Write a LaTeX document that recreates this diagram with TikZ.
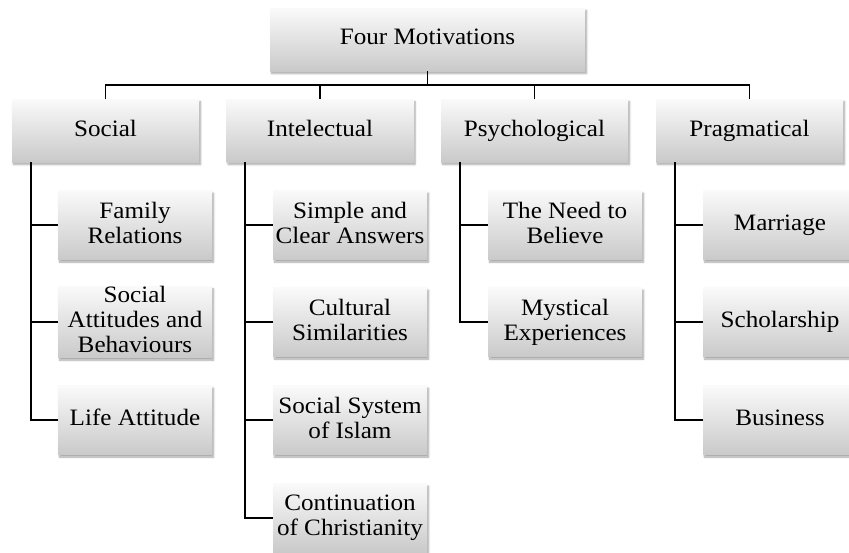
\documentclass[tikz,border=0pt]{standalone}
\usepackage{fontspec}
\setmainfont{Liberation Serif}[FakeStretch=1.07]
\usetikzlibrary{shadows.blur}

\newcommand{\boxstrut}{\rule[-5pt]{0pt}{18pt}}

\begin{document}
\begin{tikzpicture}[
  x=1pt,y=-1pt,
  every node/.style={font=\fontsize{23.5}{25}\selectfont,align=center,inner sep=0pt,
    execute at begin node=\boxstrut,execute at end node=\boxstrut},
  box node/.style={rectangle,top color=black!2,bottom color=black!21,
    blur shadow={shadow xshift=1.5pt,shadow yshift=-2.5pt,shadow blur steps=6,shadow opacity=35}},
  root node/.style={box node,minimum width=315,minimum height=63},
  group node/.style={box node,minimum width=187,minimum height=63},
  item node/.style={box node,minimum width=154,minimum height=69},
  link/.style={draw=black,line width=1.7pt},
]
\useasboundingbox (0,0) rectangle (849,552);
\coordinate (bus) at (0,85);
\node[root node] (top) at (427.5,39.5) {Four Motivations};
\node[group node] (soc) at (105.5,130.5) {Social};
\node[group node] (int) at (320,130.5) {Intelectual};
\node[group node] (psy) at (534.5,130.5) {Psychological};
\node[group node] (prg) at (749.5,130.5) {Pragmatical};
\node[item node] (soc1) at (135,225) {Family\\Relations};
\node[item node] (soc2) at (135,322) {Social\\Attitudes and\\Behaviours};
\node[item node] (soc3) at (135,420) {Life Attitude};
\node[item node] (int1) at (350,225) {Simple and\\Clear Answers};
\node[item node] (int2) at (350,322) {Cultural\\Similarities};
\node[item node] (int3) at (350,420) {Social System\\of Islam};
\node[item node] (int4) at (350,518) {Continuation\\of Christianity};
\node[item node] (psy1) at (565,225) {The Need to\\Believe};
\node[item node] (psy2) at (565,322) {Mystical\\Experiences};
\node[item node] (prg1) at (780,225) {Marriage};
\node[item node] (prg2) at (780,322) {Scholarship};
\node[item node] (prg3) at (780,420) {Business};
% top level bus
\draw[link] (top.south) -- (top.south |- bus);
\draw[link] (soc.north) |- (prg.north |- bus) -- (prg.north);
\draw[link] (int.north) -- (int.north |- bus);
\draw[link] (psy.north) -- (psy.north |- bus);
% child branches
\draw[link] ([xshift=19pt]soc.south west) |- (soc3);
\foreach \c in {soc1,soc2} \draw[link] ([xshift=19pt]soc.south west |- \c) -- (\c);
\draw[link] ([xshift=19pt]int.south west) |- (int4);
\foreach \c in {int1,int2,int3} \draw[link] ([xshift=19pt]int.south west |- \c) -- (\c);
\draw[link] ([xshift=19pt]psy.south west) |- (psy2);
\draw[link] ([xshift=19pt]psy.south west |- psy1) -- (psy1);
\draw[link] ([xshift=19pt]prg.south west) |- (prg3);
\foreach \c in {prg1,prg2} \draw[link] ([xshift=19pt]prg.south west |- \c) -- (\c);
\end{tikzpicture}
\end{document}
